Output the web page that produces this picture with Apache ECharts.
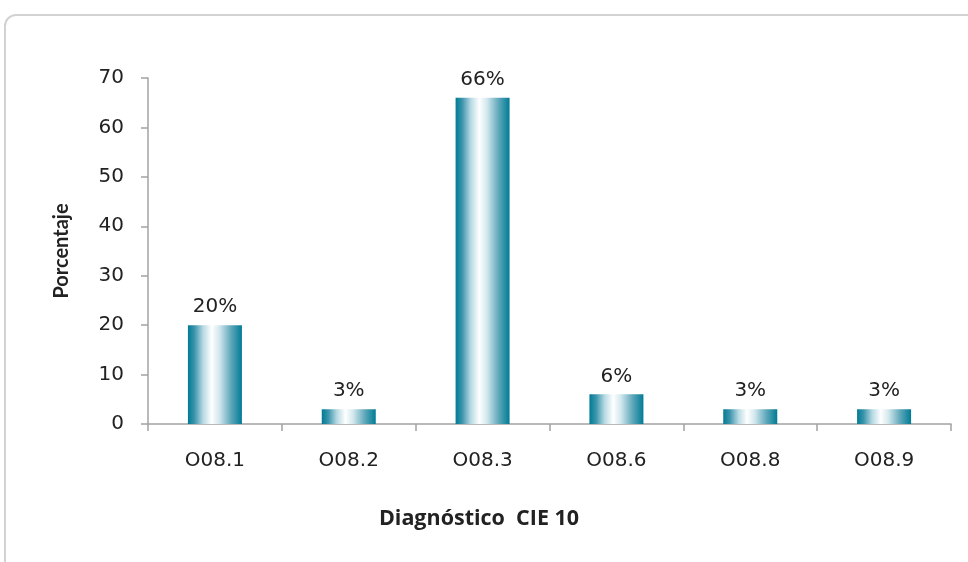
<!DOCTYPE html>
<html>
<head>
<meta charset="utf-8">
<script src="https://cdn.jsdelivr.net/npm/echarts@6/dist/echarts.min.js"></script>
<style>
  html, body { margin: 0; padding: 0; background: #fff; overflow: hidden; }
  #frame {
    position: absolute; left: 4px; top: 14px; width: 1000px; height: 600px;
    border: 2px solid #d2d2d2; border-radius: 12px; box-sizing: border-box;
  }
  #chart { position: absolute; left: 0; top: 0; width: 968px; height: 562px; }
</style>
</head>
<body>
<div id="frame"></div>
<div id="chart"></div>
<script>
// Diagnoses (ICD-10 codes) and their share of cases, in percent
const categories = ['O08.1', 'O08.2', 'O08.3', 'O08.6', 'O08.8', 'O08.9'];
const percentages = [20, 3, 66, 6, 3, 3];
const yTicks = { min: 0, max: 70, interval: 10 };

const chart = echarts.init(document.getElementById('chart'), null, { renderer: 'canvas' });

// Cylinder-like shading: teal at the edges, white highlight left of centre
const barFill = new echarts.graphic.LinearGradient(0, 0, 1, 0, [
  { offset: 0.00, color: '#007b95' },
  { offset: 0.12, color: '#3a94ab' },
  { offset: 0.28, color: '#b6d9e3' },
  { offset: 0.44, color: '#ffffff' },
  { offset: 0.58, color: '#d3e8ee' },
  { offset: 0.80, color: '#5ea7ba' },
  { offset: 1.00, color: '#007b95' }
]);

const axisGray = '#a3a3a3';
const textColor = '#222222';

chart.setOption({
  animation: false,
  backgroundColor: 'transparent',
  title: {
    text: 'Diagnóstico  CIE 10',
    left: 474,
    top: 503,
    textAlign: 'center',
    textStyle: {
      fontFamily: '"Open Sans", "Liberation Sans", sans-serif',
      fontWeight: 'bold',
      fontSize: 21.5,
      color: textColor
    }
  },
  grid: { left: 148, right: 17, top: 78, bottom: 138, containLabel: false },
  xAxis: {
    type: 'category',
    data: categories,
    boundaryGap: true,
    axisLine: { show: true, lineStyle: { color: axisGray, width: 1.5 } },
    axisTick: { show: true, length: 7, lineStyle: { color: axisGray, width: 1.5 } },
    axisLabel: {
      margin: 27,
      fontFamily: '"DejaVu Sans", sans-serif',
      fontSize: 20,
      color: textColor
    },
    splitLine: { show: false }
  },
  yAxis: {
    type: 'value',
    min: yTicks.min,
    max: yTicks.max,
    interval: yTicks.interval,
    name: 'Porcentaje',
    nameLocation: 'middle',
    nameGap: 76,
    nameTextStyle: {
      fontFamily: 'Lato, "Liberation Sans", sans-serif',
      fontWeight: 'bold',
      fontSize: 20,
      color: textColor
    },
    axisLine: { show: true, lineStyle: { color: axisGray, width: 1.5 } },
    axisTick: { show: true, length: 7, lineStyle: { color: axisGray, width: 1.5 } },
    axisLabel: {
      margin: 24,
      fontFamily: '"DejaVu Sans", sans-serif',
      fontSize: 20,
      color: textColor
    },
    splitLine: { show: false }
  },
  series: [{
    type: 'bar',
    data: percentages,
    barWidth: 54,
    itemStyle: { color: barFill },
    label: {
      show: true,
      position: 'top',
      distance: 8,
      formatter: p => p.value + '%',
      fontFamily: '"DejaVu Sans", sans-serif',
      fontSize: 20,
      color: textColor
    }
  }]
});
</script>
</body>
</html>
